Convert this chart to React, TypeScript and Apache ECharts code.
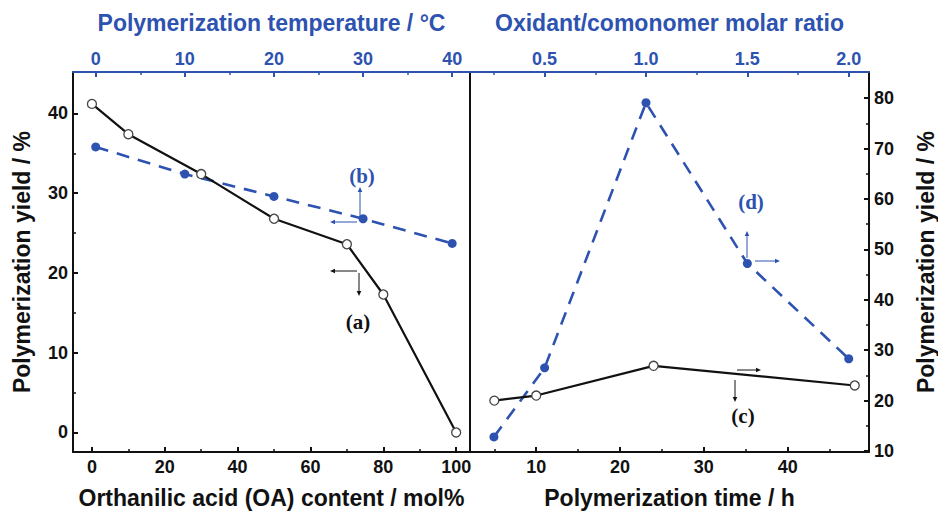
import React, { useEffect, useRef } from "react";
import * as echarts from "echarts";

// ---- data ----
const oaContent = [0, 10, 30, 50, 70, 80, 100];
const yieldA = [41.2, 37.4, 32.4, 26.8, 23.6, 17.3, 0];

const temperature = [0, 10, 20, 30, 40];
const yieldB = [35.8, 32.4, 29.6, 26.8, 23.7];

const timeH = [5, 10, 24, 48];
const yieldC = [20.0, 21.0, 26.9, 23.0];

const molarRatio = [0.25, 0.5, 1.0, 1.5, 2.0];
const yieldD = [12.8, 26.5, 79.1, 47.2, 28.3];

// ---- ticks ----
const oaTicks = [0, 20, 40, 60, 80, 100];
const oaMinor = [10, 30, 50, 70, 90];
const tempTicks = [0, 10, 20, 30, 40];
const tempMinor = [5, 15, 25, 35];
const leftYTicks = [0, 10, 20, 30, 40];
const leftYMinor = [5, 15, 25, 35];
const timeTicks = [10, 20, 30, 40];
const timeMinor = [5, 15, 25, 35, 45];
const ratioTicks = [0.5, 1.0, 1.5, 2.0];
const ratioMinor = [0.25, 0.75, 1.25, 1.75];
const rightYTicks = [10, 20, 30, 40, 50, 60, 70, 80];
const rightYMinor = [15, 25, 35, 45, 55, 65, 75];

const BLUE = "#2d52b0";
const BLACK = "#111111";
const FONT = "'Liberation Sans', Arial, sans-serif";

function zip(xs: number[], ys: number[]) {
  return xs.map((x, i) => [x, ys[i]]);
}

function axisPair(opts: {
  gridIndex: number;
  position: string;
  min: number;
  max: number;
  ticks: number[];
  minor: number[];
  color: string;
  decimals?: number;
  name?: string;
  nameGap?: number;
  labelMargin?: number;
}) {
  const main: any = {
    type: "value",
    gridIndex: opts.gridIndex,
    position: opts.position,
    min: opts.min,
    max: opts.max,
    splitLine: { show: false },
    axisLine: { show: true, onZero: false, lineStyle: { color: opts.color, width: 2 } },
    axisTick: {
      show: true,
      inside: true,
      length: 5,
      customValues: opts.ticks,
      lineStyle: { color: opts.color, width: 2 },
    },
    axisLabel: {
      show: true,
      customValues: opts.ticks,
      margin: opts.labelMargin ?? 6,
      color: opts.color,
      fontFamily: FONT,
      fontWeight: "bold",
      fontSize: 18,
      formatter: (v: number) => (opts.decimals ? v.toFixed(opts.decimals) : String(v)),
    },
  };
  if (opts.name) {
    main.name = opts.name;
    main.nameLocation = "middle";
    main.nameGap = opts.nameGap;
    main.nameTextStyle = {
      color: opts.color,
      fontFamily: FONT,
      fontWeight: "bold",
      fontSize: 23,
    };
  }
  const minor: any = {
    type: "value",
    gridIndex: opts.gridIndex,
    position: opts.position,
    min: opts.min,
    max: opts.max,
    splitLine: { show: false },
    axisLine: { show: false, onZero: false },
    axisTick: {
      show: true,
      inside: true,
      length: 3,
      customValues: opts.minor,
      lineStyle: { color: opts.color, width: 1.5 },
    },
    axisLabel: { show: false },
  };
  return [main, minor];
}

function arrow(x1: number, y1: number, x2: number, y2: number, color: string) {
  const dx = x2 - x1;
  const dy = y2 - y1;
  const L = Math.hypot(dx, dy);
  const ux = dx / L;
  const uy = dy / L;
  const hl = 5;
  const hw = 2.3;
  const bx = x2 - ux * hl;
  const by = y2 - uy * hl;
  return [
    { type: "line", shape: { x1, y1, x2: bx, y2: by }, style: { stroke: color, lineWidth: 1 } },
    {
      type: "polygon",
      shape: { points: [[x2, y2], [bx - uy * hw, by + ux * hw], [bx + uy * hw, by - ux * hw]] },
      style: { fill: color },
    },
  ];
}

function label(text: string, x: number, y: number, color: string) {
  return {
    type: "text",
    x,
    y,
    style: {
      text,
      fill: color,
      font: "bold 21px 'Liberation Serif', 'Times New Roman', serif",
      align: "center",
      verticalAlign: "middle",
    },
  };
}

export default function App() {
  const ref = useRef<HTMLDivElement>(null);

  useEffect(() => {
    if (!ref.current) return;
    const chart = echarts.init(ref.current, undefined, { renderer: "svg" });

    const xAxes = [
      ...axisPair({
        gridIndex: 0, position: "bottom", min: -5.2, max: 103.8,
        ticks: oaTicks, minor: oaMinor, color: BLACK,
        name: "Orthanilic acid (OA) content / mol%", nameGap: 34,
      }),
      ...axisPair({
        gridIndex: 0, position: "top", min: -2.55, max: 42.0,
        ticks: tempTicks, minor: tempMinor, color: BLUE, labelMargin: 4,
        name: "Polymerization temperature / °C", nameGap: 38,
      }),
      ...axisPair({
        gridIndex: 1, position: "bottom", min: 2.1, max: 49.7,
        ticks: timeTicks, minor: timeMinor, color: BLACK,
        name: "Polymerization time / h", nameGap: 34,
      }),
      ...axisPair({
        gridIndex: 1, position: "top", min: 0.132, max: 2.10,
        ticks: ratioTicks, minor: ratioMinor, color: BLUE, decimals: 1, labelMargin: 4,
        name: "Oxidant/comonomer molar ratio", nameGap: 38,
      }),
    ];

    const yAxes = [
      ...axisPair({
        gridIndex: 0, position: "left", min: -2.45, max: 45.2,
        ticks: leftYTicks, minor: leftYMinor, color: BLACK, labelMargin: 5,
        name: "Polymerization yield / %", nameGap: 40,
      }),
      ...axisPair({
        gridIndex: 1, position: "right", min: 9.8, max: 85.2,
        ticks: rightYTicks, minor: rightYMinor, color: BLACK, labelMargin: 5,
        name: "Polymerization yield / %", nameGap: 45,
      }),
      {
        type: "value",
        gridIndex: 1,
        position: "left",
        min: 9.8,
        max: 85.2,
        splitLine: { show: false },
        axisLine: { show: true, onZero: false, lineStyle: { color: BLACK, width: 2 } },
        axisTick: { show: false },
        axisLabel: { show: false },
      },
    ];

    const openCircle = {
      symbol: "circle",
      symbolSize: 9,
      itemStyle: { color: "#ffffff", borderColor: "#444444", borderWidth: 1.3 },
      lineStyle: { color: BLACK, width: 2.2, type: "solid" },
    };
    const filledDot = {
      symbol: "circle",
      symbolSize: 9,
      itemStyle: { color: BLUE, borderWidth: 0 },
      lineStyle: { color: BLUE, width: 2.6, type: [13, 9] },
    };

    const graphics: any[] = [
      ...arrow(357, 271, 330, 271, BLACK),
      ...arrow(359, 273, 359, 296, BLACK),
      ...arrow(360, 218, 360, 187, BLUE),
      ...arrow(357, 222, 330, 222, BLUE),
      ...arrow(737, 370, 761, 370, BLACK),
      ...arrow(735, 380, 735, 402, BLACK),
      ...arrow(747, 258, 747, 231, BLUE),
      ...arrow(755, 261, 780, 261, BLUE),
      label("(a)", 358, 322, BLACK),
      label("(b)", 362, 176, BLUE),
      label("(c)", 743, 416, BLACK),
      label("(d)", 751, 202, BLUE),
    ];

    chart.setOption({
      animation: false,
      backgroundColor: "#ffffff",
      grid: [
        { left: 73, right: 468, top: 72, bottom: 62, containLabel: false },
        { left: 470, right: 66, top: 72, bottom: 62, containLabel: false },
      ],
      xAxis: xAxes,
      yAxis: yAxes,
      series: [
        { type: "line", name: "a", xAxisIndex: 0, yAxisIndex: 0, data: zip(oaContent, yieldA), ...openCircle, z: 3 },
        { type: "line", name: "b", xAxisIndex: 2, yAxisIndex: 0, data: zip(temperature, yieldB), ...filledDot, z: 2 },
        { type: "line", name: "c", xAxisIndex: 4, yAxisIndex: 2, data: zip(timeH, yieldC), ...openCircle, z: 3 },
        { type: "line", name: "d", xAxisIndex: 6, yAxisIndex: 2, data: zip(molarRatio, yieldD), ...filledDot, z: 2 },
      ],
      graphic: graphics,
    });

    return () => chart.dispose();
  }, []);

  return (
    <div
      ref={ref}
      style={{ position: "fixed", left: 0, top: 0, width: 938, height: 514, background: "#fff" }}
    />
  );
}
